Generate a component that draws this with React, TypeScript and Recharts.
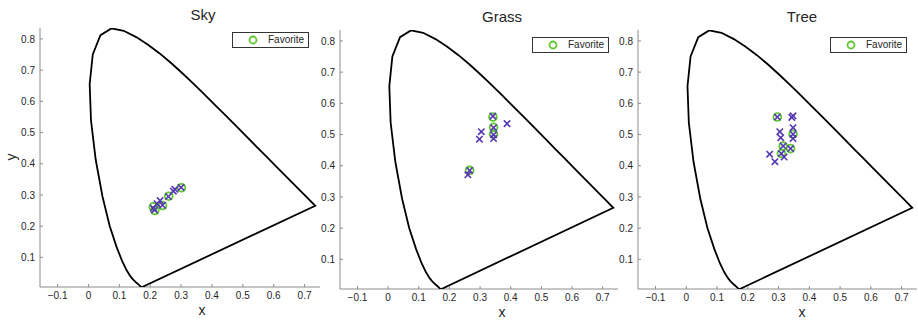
import { ScatterChart, Scatter, XAxis, YAxis, Legend } from 'recharts'

// CIE 1931 spectral locus (x, y), 380 -> 700 nm, closed back to 380 by the purple line
const locus: [number, number][] = [
  [0.1741, 0.005], [0.1733, 0.0048], [0.1714, 0.0051], [0.1689, 0.0069], [0.1644, 0.0109],
  [0.1566, 0.0177], [0.144, 0.0297], [0.1355, 0.0399], [0.1241, 0.0578], [0.1096, 0.0868],
  [0.0913, 0.1327], [0.0687, 0.2007], [0.0454, 0.295], [0.0235, 0.4127], [0.0082, 0.5384],
  [0.0039, 0.6548], [0.0139, 0.7502], [0.0389, 0.812], [0.0743, 0.8338], [0.1142, 0.8262],
  [0.1547, 0.8059], [0.1929, 0.7816], [0.2296, 0.7543], [0.2658, 0.7243], [0.3016, 0.6923],
  [0.3373, 0.6589], [0.3731, 0.6245], [0.4087, 0.5896], [0.4441, 0.5547], [0.4788, 0.5202],
  [0.5125, 0.4866], [0.5448, 0.4544], [0.5752, 0.4242], [0.6029, 0.3965], [0.627, 0.3725],
  [0.6658, 0.334], [0.6915, 0.3083], [0.7079, 0.292], [0.719, 0.2809], [0.726, 0.274],
  [0.73, 0.27], [0.7334, 0.2666], [0.7347, 0.2653], [0.1741, 0.005],
]

const skyFavorites: [number, number][] = [
  [0.21, 0.262], [0.215, 0.25], [0.24, 0.266], [0.26, 0.296], [0.301, 0.323],
]
const skyPicks: [number, number][] = [
  [0.21, 0.258], [0.214, 0.252], [0.222, 0.272], [0.232, 0.282], [0.24, 0.267],
  [0.259, 0.295], [0.275, 0.312], [0.28, 0.318], [0.3, 0.324],
]

const grassFavorites: [number, number][] = [
  [0.342, 0.556], [0.344, 0.523], [0.344, 0.501], [0.266, 0.385],
]
const grassPicks: [number, number][] = [
  [0.342, 0.559], [0.344, 0.522], [0.344, 0.499], [0.344, 0.487], [0.388, 0.535],
  [0.304, 0.509], [0.298, 0.485], [0.266, 0.385], [0.26, 0.371],
]

const treeFavorites: [number, number][] = [
  [0.296, 0.556], [0.347, 0.501], [0.315, 0.463], [0.339, 0.455], [0.309, 0.439],
]
const treePicks: [number, number][] = [
  [0.296, 0.556], [0.347, 0.56], [0.343, 0.555], [0.347, 0.522], [0.347, 0.501],
  [0.347, 0.487], [0.304, 0.509], [0.307, 0.49], [0.315, 0.463], [0.339, 0.455],
  [0.309, 0.439], [0.318, 0.428], [0.271, 0.437], [0.288, 0.413],
]

const xTicks = [-0.1, 0, 0.1, 0.2, 0.3, 0.4, 0.5, 0.6, 0.7]
const yTicks = [0.1, 0.2, 0.3, 0.4, 0.5, 0.6, 0.7, 0.8]

const GREEN = '#5ec82e'
const PURPLE = '#5538b2'
const AXIS = '#8c8c8c'
const INK = '#262626'
const FONT = '"Liberation Sans", Arial, Helvetica, sans-serif'

const toPts = (a: [number, number][]) => a.map(([x, y]) => ({ x, y }))

function fmt(v: number) {
  if (v === 0) return '0'
  return v < 0 ? `\u2212${Math.abs(v)}` : String(v)
}

function XTick({ x, y, payload }: any) {
  return (
    <g>
      <line x1={x} x2={x} y1={y} y2={y - 3} stroke={AXIS} />
      <text x={x} y={y + 12} textAnchor="middle" fontSize={10} fill={INK} fontFamily={FONT}>
        {fmt(payload.value)}
      </text>
    </g>
  )
}

function YTick({ x, y, payload }: any) {
  return (
    <g>
      <line x1={x} x2={x + 3} y1={y} y2={y} stroke={AXIS} />
      <text x={x - 5} y={y + 3.6} textAnchor="end" fontSize={10} fill={INK} fontFamily={FONT}>
        {fmt(payload.value)}
      </text>
    </g>
  )
}

const Ring = (p: any) => (
  <circle cx={p.cx} cy={p.cy} r={3.9} fill="none" stroke={GREEN} strokeWidth={1.8} />
)

const Cross = (p: any) => {
  const s = 3.2
  return (
    <path
      d={`M${p.cx - s},${p.cy - s}L${p.cx + s},${p.cy + s}M${p.cx - s},${p.cy + s}L${p.cx + s},${p.cy - s}`}
      stroke={PURPLE}
      strokeWidth={1.6}
      fill="none"
    />
  )
}

const Nothing = () => <g />

function FavLegend() {
  return (
    <div
      style={{
        width: 77, height: 16, boxSizing: 'border-box', border: '1px solid #333',
        background: '#fff', position: 'relative', fontFamily: FONT, fontSize: 10, color: INK,
      }}
    >
      <svg width={30} height={14} style={{ position: 'absolute', left: 0, top: 0 }}>
        <circle cx={20} cy={7} r={3.5} fill="none" stroke={GREEN} strokeWidth={1.8} />
      </svg>
      <span style={{ position: 'absolute', left: 35, top: 1, lineHeight: '12px' }}>Favorite</span>
    </div>
  )
}

const panels = [
  { title: 'Sky', fav: skyFavorites, picks: skyPicks, left: 0, top: 28, bottom: 3, right: 0, legendTop: 32 },
  { title: 'Grass', fav: grassFavorites, picks: grassPicks, left: 300, top: 30, bottom: 1, right: 2, legendTop: 37 },
  { title: 'Tree', fav: treeFavorites, picks: treePicks, left: 598, top: 30, bottom: 1, right: 1, legendTop: 37 },
]

function Panel({ p }: { p: (typeof panels)[number] }) {
  return (
    <div style={{ position: 'absolute', left: p.left, top: 0 }}>
      <ScatterChart
        width={320}
        height={320}
        margin={{ top: p.top, right: p.right, bottom: p.bottom, left: 10 }}
      >
        <XAxis
          type="number"
          dataKey="x"
          domain={[-0.157, 0.75]}
          ticks={xTicks}
          allowDataOverflow
          height={30}
          tickSize={0}
          tickMargin={0}
          tickLine={false}
          axisLine={{ stroke: AXIS }}
          tick={<XTick />}
        />
        <YAxis
          type="number"
          dataKey="y"
          domain={[0.005, 0.835]}
          ticks={yTicks}
          allowDataOverflow
          width={30}
          tickSize={0}
          tickMargin={0}
          tickLine={false}
          axisLine={{ stroke: AXIS }}
          tick={<YTick />}
        />
        <Legend
          layout="horizontal"
          verticalAlign="middle"
          content={() => <FavLegend />}
          wrapperStyle={{ top: p.legendTop, left: 232, width: 77, height: 16 }}
        />
        <Scatter
          data={toPts(locus)}
          line={{ stroke: '#000', strokeWidth: 1.8 }}
          shape={Nothing}
          legendType="none"
          isAnimationActive={false}
        />
        <Scatter data={toPts(p.fav)} shape={Ring} name="Favorite" isAnimationActive={false} />
        <Scatter data={toPts(p.picks)} shape={Cross} legendType="none" isAnimationActive={false} />
      </ScatterChart>
    </div>
  )
}

export default function App() {
  return (
    <div style={{ position: 'absolute', left: 0, top: 0, width: 918, height: 320, background: '#fff' }}>
      {panels.map((p) => (
        <Panel key={p.title} p={p} />
      ))}
      <svg
        width={918}
        height={320}
        style={{ position: 'absolute', left: 0, top: 0, pointerEvents: 'none' }}
        fontFamily={FONT}
        fill={INK}
      >
        <text x={203} y={19.5} textAnchor="middle" fontSize={15}>Sky</text>
        <text x={502} y={21.5} textAnchor="middle" fontSize={15}>Grass</text>
        <text x={802} y={21.5} textAnchor="middle" fontSize={15}>Tree</text>
        <text x={202} y={315} textAnchor="middle" fontSize={14}>x</text>
        <text x={502} y={317} textAnchor="middle" fontSize={14}>x</text>
        <text x={802} y={317} textAnchor="middle" fontSize={14}>x</text>
        <text x={16} y={157} textAnchor="middle" fontSize={14} transform="rotate(-90 16 157)">y</text>
      </svg>
    </div>
  )
}
